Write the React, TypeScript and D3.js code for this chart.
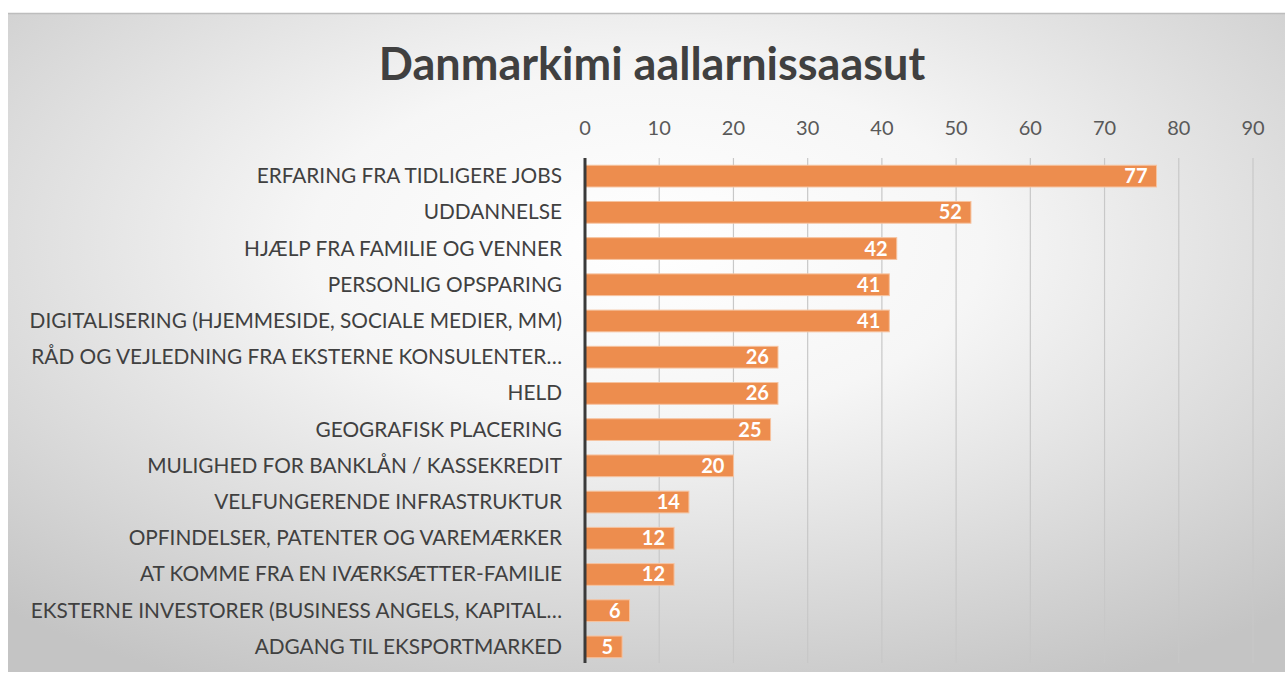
import React from "react";
import * as d3 from "d3";

const categories = [
  "ERFARING FRA TIDLIGERE JOBS",
  "UDDANNELSE",
  "HJÆLP FRA FAMILIE OG VENNER",
  "PERSONLIG OPSPARING",
  "DIGITALISERING (HJEMMESIDE, SOCIALE MEDIER, MM)",
  "RÅD OG VEJLEDNING FRA EKSTERNE KONSULENTER…",
  "HELD",
  "GEOGRAFISK PLACERING",
  "MULIGHED FOR BANKLÅN / KASSEKREDIT",
  "VELFUNGERENDE INFRASTRUKTUR",
  "OPFINDELSER, PATENTER OG VAREMÆRKER",
  "AT KOMME FRA EN IVÆRKSÆTTER-FAMILIE",
  "EKSTERNE INVESTORER (BUSINESS ANGELS, KAPITAL…",
  "ADGANG TIL EKSPORTMARKED",
];
const values = [77, 52, 42, 41, 41, 26, 26, 25, 20, 14, 12, 12, 6, 5];
const xTicks = [0, 10, 20, 30, 40, 50, 60, 70, 80, 90];
const title = "Danmarkimi aallarnissaasut";

const W = 1285;
const H = 684;

export default function App() {
  const x = d3.scaleLinear().domain([0, 90]).range([585, 1253]);
  const y = d3
    .scaleBand<string>()
    .domain(categories)
    .range([158, 665])
    .paddingInner(0.4)
    .paddingOuter(0.2);
  const font = "Lato, 'Open Sans', sans-serif";
  return (
    <svg
      width={W}
      height={H}
      style={{ position: "absolute", left: 0, top: 0, background: "#fff" }}
    >
      <defs>
        <radialGradient id="bg" cx="0.5" cy="0.35" r="0.75" fx="0.5" fy="0.35">
          <stop offset="0%" stopColor="#ffffff" />
          <stop offset="35%" stopColor="#f6f6f6" />
          <stop offset="100%" stopColor="#c4c4c4" />
        </radialGradient>
      </defs>
      <rect x={8} y={13} width={W - 6} height={659} fill="url(#bg)" />
      <line x1={8} x2={W} y1={13.5} y2={13.5} stroke="#bdbdbd" strokeWidth={1.5} />
      <text
        x={652}
        y={80}
        textAnchor="middle"
        fontFamily={font}
        fontWeight={700}
        fontSize={45}
        fill="#404040"
      >
        {title}
      </text>
      {xTicks.map((t) => (
        <g key={t}>
          {t > 0 && (
            <line
              x1={x(t)}
              x2={x(t)}
              y1={158}
              y2={663}
              stroke="#c8c8c8"
              strokeWidth={1.2}
            />
          )}
          <text
            x={x(t)}
            y={135}
            textAnchor="middle"
            fontFamily={font}
            fontSize={20}
            fill="#595959"
          >
            {t}
          </text>
        </g>
      ))}
      {categories.map((c, i) => {
        const yy = y(c)!;
        const bw = y.bandwidth();
        return (
          <g key={c}>
            <rect
              x={x(0)}
              y={yy}
              width={x(values[i]) - x(0)}
              height={bw}
              fill="#ed8d4e"
              stroke="#f6c3a0"
              strokeWidth={1}
            />
            <text
              x={x(values[i]) - 9}
              y={yy + bw / 2 + 7}
              textAnchor="end"
              fontFamily={font}
              fontWeight={700}
              fontSize={20}
              fill="#ffffff"
            >
              {values[i]}
            </text>
            <text
              x={562}
              y={yy + bw / 2 + 7}
              textAnchor="end"
              fontFamily={font}
              fontSize={20.8}
              fill="#404040"
            >
              {c}
            </text>
          </g>
        );
      })}
      <line x1={x(0)} x2={x(0)} y1={158} y2={663} stroke="#3a3a3a" strokeWidth={3} />
    </svg>
  );
}
